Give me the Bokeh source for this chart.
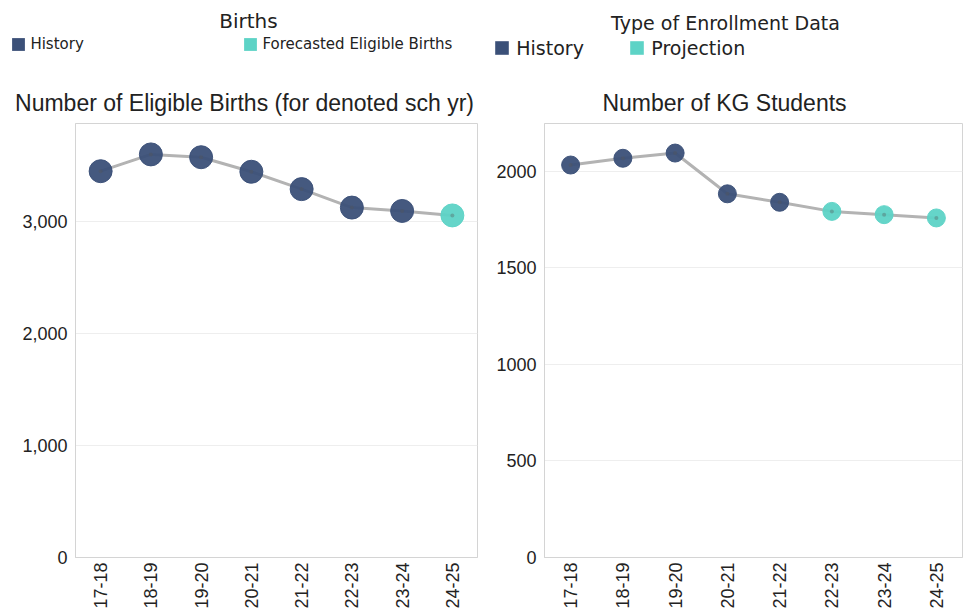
import math
from bokeh.plotting import figure
from bokeh.models import (Legend, LegendItem, ColumnDataSource, Range1d, Label,
                          FixedTicker, NumeralTickFormatter, BasicTickFormatter)
from bokeh.layouts import row, column
from bokeh.embed import file_html
from bokeh.resources import INLINE

# ---------------- data ----------------
school_years = ["17-18", "18-19", "19-20", "20-21", "21-22", "22-23", "23-24", "24-25"]

births = [3450, 3600, 3575, 3445, 3290, 3125, 3095, 3055]
births_type = ["History"] * 7 + ["Forecasted Eligible Births"]

kg_students = [2032, 2067, 2094, 1883, 1839, 1792, 1775, 1758]
kg_type = ["History"] * 5 + ["Projection"] * 3

births_ticks = [0, 1000, 2000, 3000]
kg_ticks = [0, 500, 1000, 1500, 2000]

NAVY = "#3b5078"
TEAL = "#5dd3c6"
LINE = "#b3b3b3"
AXIS_FONT = "Liberation Sans"
LEG_FONT = "DejaVu Sans"
HEADER_H = 121
MAIN_H = 611 - HEADER_H


def make_header(width, hist_label, fc_label, legend_title, title_text,
                leg_font, leg_title_font, glyph, standoff, label_width,
                leg_loc, leg_title_xy, title_xy):
    h = figure(width=width, height=HEADER_H, x_range=Range1d(0, width),
               y_range=Range1d(0, HEADER_H), output_backend="svg",
               toolbar_location=None, x_axis_location=None, y_axis_location=None,
               min_border=0, outline_line_color=None, frame_align=False)
    h.xgrid.grid_line_color = None
    h.ygrid.grid_line_color = None

    nan = float("nan")
    r_hist = h.quad(left="left", right="right", top="top", bottom="bottom",
                    source=ColumnDataSource(dict(left=[nan], right=[nan], top=[nan], bottom=[nan])),
                    fill_color=NAVY, line_color=None)
    r_fc = h.quad(left="left", right="right", top="top", bottom="bottom",
                  source=ColumnDataSource(dict(left=[nan], right=[nan], top=[nan], bottom=[nan])),
                  fill_color=TEAL, line_color=None)

    legend = Legend(items=[LegendItem(label=hist_label, renderers=[r_hist]),
                           LegendItem(label=fc_label, renderers=[r_fc])],
                    orientation="horizontal", location=leg_loc,
                    label_text_font=LEG_FONT, label_text_font_size=leg_font,
                    label_text_color="#222222", label_text_baseline="middle",
                    glyph_width=glyph, glyph_height=glyph, label_height=glyph,
                    label_standoff=standoff, label_width=label_width,
                    spacing=0, padding=0, margin=0,
                    border_line_color=None, background_fill_alpha=0)
    h.add_layout(legend, "center")

    h.add_layout(Label(x=leg_title_xy[0], y=leg_title_xy[1], text=legend_title,
                       text_font=LEG_FONT, text_font_size=leg_title_font,
                       text_color="#222222", text_align="center",
                       text_baseline="middle"))
    h.add_layout(Label(x=title_xy[0], y=title_xy[1], text=title_text,
                       text_font=AXIS_FONT, text_font_size="23px",
                       text_color="#222222", text_align="center",
                       text_baseline="middle"))
    return h


def make_main(values, types, ymax, ticks, fmt, width, lb, rb, marker_size):
    colors = [NAVY if t == "History" else TEAL for t in types]
    src = ColumnDataSource(dict(x=school_years, y=values, c=colors, t=types))

    p = figure(x_range=school_years, y_range=Range1d(0, ymax), width=width,
               height=MAIN_H, output_backend="svg", toolbar_location=None,
               min_border_left=lb, min_border_right=rb,
               min_border_top=2, min_border_bottom=52, frame_align=False)
    p.outline_line_color = "#d4d4d4"

    p.line("x", "y", source=src, line_color=LINE, line_width=3)
    p.scatter("x", "y", source=src, size=marker_size, fill_color="c",
              line_color="c", fill_alpha=0.95, line_alpha=0.95)
    p.scatter("x", "y", source=src, size=4, fill_color="#555555",
              line_color=None, fill_alpha=0.35)

    ya = p.yaxis[0]
    ya.ticker = FixedTicker(ticks=ticks)
    ya.formatter = fmt
    ya.axis_line_color = "#d4d4d4"
    ya.major_tick_line_color = None
    ya.minor_tick_line_color = None
    ya.major_tick_out = 0
    ya.major_tick_in = 0
    ya.major_label_text_font = AXIS_FONT
    ya.major_label_text_font_size = "18px"
    ya.major_label_text_color = "#222222"
    ya.major_label_standoff = 8

    xa = p.xaxis[0]
    xa.axis_line_color = "#d4d4d4"
    xa.major_tick_line_color = None
    xa.minor_tick_line_color = None
    xa.major_tick_out = 0
    xa.major_tick_in = 0
    xa.major_label_orientation = math.pi / 2
    xa.major_label_text_font = AXIS_FONT
    xa.major_label_text_font_size = "18px"
    xa.major_label_text_color = "#222222"
    xa.major_label_standoff = 5

    p.xgrid.grid_line_color = None
    p.ygrid.ticker = FixedTicker(ticks=ticks)
    p.ygrid.grid_line_color = "#eeeeee"
    return p


# left panel: canvas x 0..478, plot frame 75..477
h1 = make_header(478, "History", "Forecasted Eligible Births", "Births",
                 "Number of Eligible Births (for denoted sch yr)",
                 "15px", "20px", 16, 4, 212, (10.4, 68.5), (248, 101), (244, 19))
m1 = make_main(births, births_type, 3876, births_ticks,
               NumeralTickFormatter(format="0,0"), 478, 75, 1, 23)

# right panel: canvas x 478..965, plot frame 544..962
h2 = make_header(487, "History", "Projection", "Type of Enrollment Data",
                 "Number of KG Students",
                 "19px", "19px", 17, 6, 112, (15.3, 62.5), (247, 99), (246, 19))
m2 = make_main(kg_students, kg_type, 2247, kg_ticks,
               BasicTickFormatter(use_scientific=False), 487, 66, 3, 18)

layout = row(column(h1, m1, spacing=0), column(h2, m2, spacing=0), spacing=0)
open("out.html", "w").write(file_html(layout, INLINE))
